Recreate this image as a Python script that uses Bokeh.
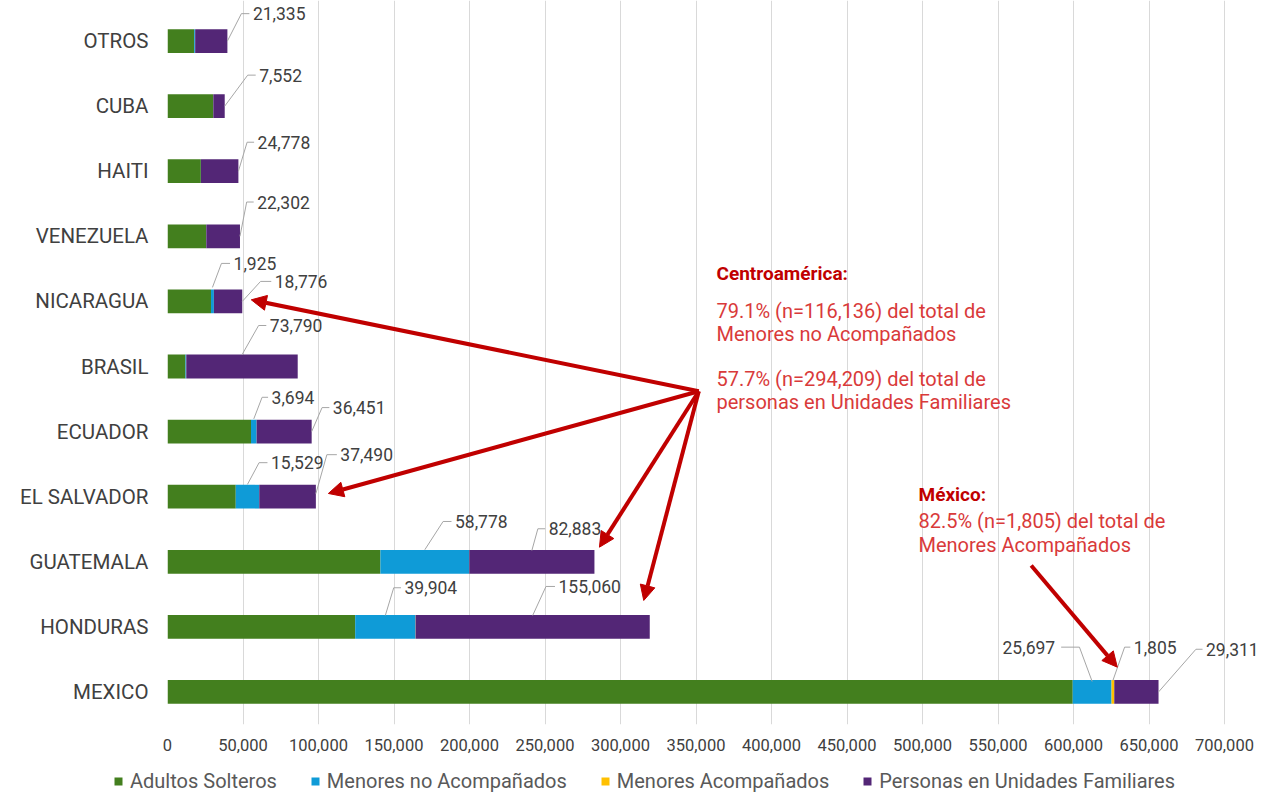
from bokeh.plotting import figure
from bokeh.layouts import column
from bokeh.models import (Range1d, FixedTicker, Legend, LegendItem, Label, Arrow,
                          NormalHead, ColumnDataSource, NumeralTickFormatter)
from bokeh.embed import file_html
from bokeh.resources import INLINE
from bokeh.core.properties import value

# ---------------- data ----------------
categories = ["MEXICO", "HONDURAS", "GUATEMALA", "EL SALVADOR", "ECUADOR", "BRASIL",
              "NICARAGUA", "VENEZUELA", "HAITI", "CUBA", "OTROS"]
adultos_solteros = [599500, 124300, 141000, 45200, 55300, 11900, 28800, 25600, 22100, 30300, 17700]
menores_no_acompanados = [25697, 39904, 58778, 15529, 3694, 500, 1925, 80, 60, 30, 600]
menores_acompanados = [1805, 110, 80, 40, 30, 40, 20, 20, 15, 10, 28]
unidades_familiares = [29311, 155060, 82883, 37490, 36451, 73790, 18776, 22302, 24778, 7552, 21335]
series_names = ["Adultos Solteros", "Menores no Acompañados", "Menores Acompañados",
                "Personas en Unidades Familiares"]
series_colors = ["#437F1E", "#0F9BD7", "#FFC000", "#532676"]
x_ticks = list(range(0, 700001, 50000))

series = [adultos_solteros, menores_no_acompanados, menores_acompanados, unidades_familiares]

# ---------------- layout (page pixels; the figure sits at 0,0) ----------------
W = 1264
H1 = 757                      # main chart height
H2 = 36                       # legend strip height
FRAME_L = 167                 # x = 0
PX_700K = 1224                # x = 700,000
FRAME_B = 724                 # bottom of category area
CAT_TOP = 8                   # top of category area
NCAT = len(categories)
XPX = 700000 / (PX_700K - FRAME_L)        # data units per pixel (x)
UNIT = (FRAME_B - CAT_TOP) / NCAT         # pixels per category
YPX = 1.0 / UNIT                          # data units per pixel (y)
XMAX = (W - FRAME_L) * XPX
YMAX = -0.5 + FRAME_B * YPX

def px2x(px):
    return (px - FRAME_L) * XPX

def py2y(py):
    return (NCAT - 0.5) - (py - CAT_TOP) * YPX

p = figure(width=W, height=H1, output_backend="svg", toolbar_location=None,
           x_range=Range1d(0, XMAX), y_range=Range1d(-0.5, YMAX),
           min_border_left=FRAME_L, min_border_right=0,
           min_border_top=0, min_border_bottom=H1 - FRAME_B)
p.outline_line_color = None
p.background_fill_color = "white"

ys = list(range(NCAT))
data = {"y": ys}
keys = ["s0", "s1", "s2", "s3"]
for k, s in zip(keys, series):
    data[k] = s
src = ColumnDataSource(data)
renderers = p.hbar_stack(keys, y="y", height=0.365, color=series_colors,
                         line_color=None, source=src)

lefts = []
acc = [0] * NCAT
for s in series:
    lefts.append(acc[:])
    acc = [a + v for a, v in zip(acc, s)]
totals = acc

# grid & axes
p.xgrid.ticker = FixedTicker(ticks=x_ticks)
p.xgrid.grid_line_color = "#D9D9D9"
p.xgrid.grid_line_width = 1
p.ygrid.visible = False

p.xaxis.ticker = FixedTicker(ticks=x_ticks)
p.xaxis.formatter = NumeralTickFormatter(format="0,0")
p.yaxis.ticker = FixedTicker(ticks=ys)
p.yaxis.major_label_overrides = {i: c for i, c in enumerate(categories)}
for ax in (p.xaxis, p.yaxis):
    ax.axis_line_color = None
    ax.major_tick_line_color = None
    ax.minor_tick_line_color = None
    ax.major_label_text_font = "Roboto"
    ax.major_label_text_color = "#404040"
p.xaxis.major_label_text_font_size = "16.5px"
p.xaxis.major_label_standoff = 8
p.yaxis.major_label_text_font_size = "20.5px"
p.yaxis.major_label_standoff = 13

# ---------------- data labels with leader lines ----------------
# (category, series, anchor fraction, anchor dy px, elbow dx px, elbow dy px, horizontal px)
label_specs = [
    (10, 3, 1.0, 0, 14, -27.4, 8),
    (9, 3, 1.0, 0, 23, -31, 8),
    (8, 3, 1.0, 0, 8.7, -29, 7),
    (7, 3, 1.0, 0, 6.7, -34.3, 7),
    (6, 1, 0.5, -14, 9, -24, 8.6),
    (6, 3, 1.0, 0, 18.3, -20, 10.7),
    (5, 3, 0.5, -11.7, 16.6, -29.3, 7.7),
    (4, 1, 0.5, -12.7, 8.3, -21.6, 6),
    (4, 3, 1.0, 0, 10.4, -24, 7.3),
    (3, 1, 0.5, -12.3, 11.6, -21.7, 8.4),
    (3, 3, 1.0, -3, 11, -39, 10),
    (2, 1, 0.5, -12, 18.3, -28.3, 8.4),
    (2, 3, 0.5, -11.3, 6, -21.7, 7.3),
    (1, 1, 0.5, -11.4, 8.4, -27.7, 7.3),
    (1, 3, 0.5, -11.4, 13.3, -29, 9),
    (0, 1, 0.5, -10.5, -12.7, -34.3, -18.3),
    (0, 2, 0.5, -11.5, 11.7, -33.3, 5.7),
    (0, 3, 1.0, 0, 37.4, -42.7, 6.6),
]
lx, ly = [], []
tl = {"x": [], "y": [], "t": []}
tr = {"x": [], "y": [], "t": []}
for c, s, f, ady, edx, edy, hl in label_specs:
    v = series[s][c]
    ax_ = lefts[s][c] + f * v
    ay_ = c - ady * YPX
    ex = ax_ + edx * XPX
    ey = ay_ - edy * YPX
    hx = ex + hl * XPX
    lx.append([ax_, ex, hx])
    ly.append([ay_, ey, ey])
    if hl > 0:
        tl["x"].append(hx + 3.5 * XPX); tl["y"].append(ey); tl["t"].append(f"{v:,}")
    else:
        tr["x"].append(hx - 6 * XPX); tr["y"].append(ey); tr["t"].append(f"{v:,}")

p.multi_line(lx, ly, line_color="#A6A6A6", line_width=1)
for d, align in ((tl, "left"), (tr, "right")):
    p.text(x="x", y="y", text="t", source=ColumnDataSource(d), text_align=align,
           text_baseline="middle", text_font=value("Roboto"), text_font_size="17.5px",
           text_color="#404040")

# ---------------- arrows ----------------
RED = "#C00000"
origin = (px2x(698.3), py2y(390.7))
# (category, gap px beyond bar end, dy px)
arrow_targets = [(6, 9, -1.6), (3, 12.5, -3.2), (2, 5, -14.6), (1, -6, -26.4)]
for c, gap, dy in arrow_targets:
    tx = totals[c] + gap * XPX
    ty = c - dy * YPX
    p.add_layout(Arrow(end=NormalHead(size=15, fill_color=RED, line_color=RED),
                       x_start=origin[0], y_start=origin[1], x_end=tx, y_end=ty,
                       line_color=RED, line_width=4))
mx_tip = lefts[2][0] + menores_acompanados[0] + 3 * XPX
p.add_layout(Arrow(end=NormalHead(size=15, fill_color=RED, line_color=RED),
                   x_start=px2x(1030.7), y_start=py2y(565),
                   x_end=mx_tip, y_end=0 + 24.8 * YPX,
                   line_color=RED, line_width=4))

# ---------------- annotation texts ----------------
BODY = "#D93A3A"
notes = [
    (716, 273, "Centroamérica:", True),
    (716, 310, "79.1% (n=116,136) del total de", False),
    (716, 333, "Menores no Acompañados", False),
    (716, 378, "57.7% (n=294,209) del total de", False),
    (716, 401, "personas en Unidades Familiares", False),
    (918, 494, "México:", True),
    (918, 520, "82.5% (n=1,805) del total de", False),
    (918, 544, "Menores Acompañados", False),
]
for px, py, txt, bold in notes:
    p.add_layout(Label(x=px2x(px), y=py2y(py), text=txt, text_align="left",
                       text_baseline="middle", text_font="Roboto",
                       text_font_size="19px" if bold else "20px",
                       text_font_style="bold" if bold else "normal",
                       text_color=RED if bold else BODY))

# ---------------- legend strip ----------------
q = figure(width=W, height=H2, output_backend="svg", toolbar_location=None,
           x_range=Range1d(0, 1), y_range=Range1d(0, 1),
           x_axis_type=None, y_axis_type=None,
           min_border_left=0, min_border_right=0, min_border_top=0, min_border_bottom=0)
q.frame_align = False
q.outline_line_color = None
q.xgrid.visible = False
q.ygrid.visible = False
leg_rs = [q.hbar(y=[-10], left=[0], right=[1], height=1, color=c, line_color=None)
          for c in series_colors]
items = [LegendItem(label=n, renderers=[r]) for n, r in zip(series_names, leg_rs)]
legend = Legend(items=items, orientation="horizontal", location=(113, 0),
                padding=0, margin=0, spacing=33, label_standoff=7,
                glyph_width=10, glyph_height=10, label_height=20,
                label_text_font="Roboto", label_text_font_size="20px",
                label_text_color="#595959", border_line_color=None,
                background_fill_alpha=0)
q.add_layout(legend, "center")

open("out.html", "w").write(file_html(column(p, q, spacing=0), INLINE))
